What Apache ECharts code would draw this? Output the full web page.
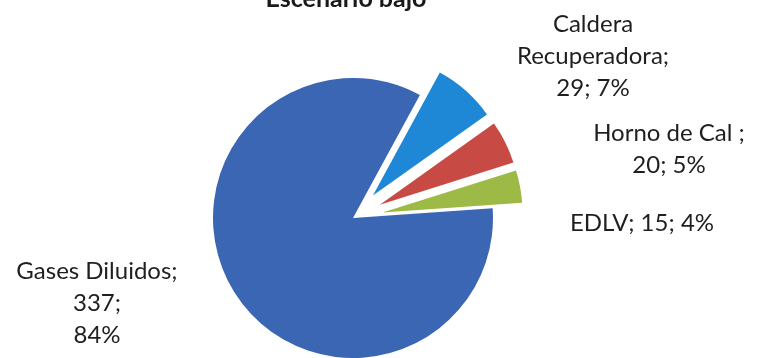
<!DOCTYPE html>
<html>
<head>
<meta charset="utf-8">
<script src="https://cdn.jsdelivr.net/npm/echarts@6/dist/echarts.min.js"></script>
<style>
  html, body { margin: 0; padding: 0; background: #ffffff; }
  #chart { width: 762px; height: 358px; }
</style>
</head>
<body>
<div id="chart"></div>
<script>
// Emission sources, low scenario
const categories = ['Gases Diluidos', 'Caldera Recuperadora', 'Horno de Cal ', 'EDLV'];
const values = [337, 29, 20, 15];
const colors = ['#3b66b4', '#1f88d6', '#c84a44', '#9cba45'];
const exploded = [false, true, true, true];
const titleText = 'Escenario bajo';

// label block centres, per slice
const labelSpots = [[97, 303], [593, 56], [669, 149], [642, 223]];

const total = values.reduce((a, b) => a + b, 0);

function labelText(i) {
  const name = categories[i];
  const v = values[i];
  const pct = Math.round(v / total * 100);
  if (i === 0) return name + ';\n' + v + ';\n' + pct + '%';
  if (i === 1) return name.replace(' ', '\n') + ';\n' + v + '; ' + pct + '%';
  if (i === 2) return name + ';\n' + v + '; ' + pct + '%';
  return name + '; ' + v + '; ' + pct + '%';
}

const chart = echarts.init(document.getElementById('chart'), null, { renderer: 'canvas' });

chart.setOption({
  animation: false,
  backgroundColor: '#ffffff',
  title: {
    text: titleText,
    left: 341,
    top: -19,
    textAlign: 'center',
    textStyle: { fontFamily: 'Lato', fontWeight: 'bold', fontSize: 25, color: '#1a1a1a' }
  },
  graphic: categories.map((c, i) => ({
    type: 'text',
    x: labelSpots[i][0],
    y: labelSpots[i][1],
    style: {
      text: labelText(i),
      font: '24px Lato',
      lineHeight: 32,
      fill: '#1f1f1f',
      align: 'center',
      verticalAlign: 'middle'
    }
  })),
  series: [{
    type: 'pie',
    center: [353, 218],
    radius: [0, 140],
    startAngle: 4,
    clockwise: true,
    selectedMode: 'multiple',
    selectedOffset: 30,
    emphasis: { disabled: true },
    itemStyle: { borderWidth: 0 },
    label: { show: false },
    labelLine: { show: false },
    data: categories.map((name, i) => ({
      name: name,
      value: values[i],
      selected: exploded[i],
      itemStyle: { color: colors[i] }
    }))
  }]
});
</script>
</body>
</html>
